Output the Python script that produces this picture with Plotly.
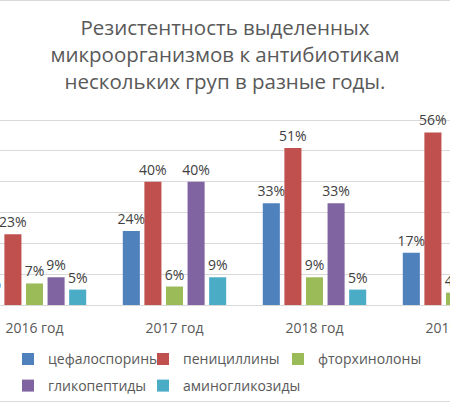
import plotly.graph_objects as go

years = ['2016 год', '2017 год', '2018 год', '2019 год']
series_names = ['цефалоспорины', 'пенициллины', 'фторхинолоны', 'гликопептиды', 'аминогликозиды']
cefalosporins = [3, 24, 33, 17]
penicillins = [23, 40, 51, 56]
ftorquinolones = [7, 6, 9, 4]
glycopeptides = [9, 40, 33, 15]
aminoglycosides = [5, 9, 5, 6]
colors = ['#4F81BD', '#C0504D', '#9BBB59', '#8064A2', '#4BACC6']

FONT = 'Open Sans'
GREY = '#595959'
W = 470  # a bit wider than the window, so the last group is cut like in the original

fig = go.Figure()

# one legend per entry so the entries sit on the Excel-like grid (3 + 2)
legend_ids = ['legend', 'legend2', 'legend3', 'legend4', 'legend5']
legend_pos = [(8 / W, -0.279), (143 / W, -0.279), (278 / W, -0.279), (8 / W, -0.4154), (143 / W, -0.4154)]

all_values = [cefalosporins, penicillins, ftorquinolones, glycopeptides, aminoglycosides]
for name, values, color, lg in zip(series_names, all_values, colors, legend_ids):
    fig.add_trace(go.Bar(
        x=years,
        y=values,
        name=name,
        marker_color=color,
        marker_line_width=0,
        text=[f'{v}%' for v in values],
        textposition='outside',
        constraintext='none',
        textfont=dict(family=FONT, size=14, color='#404040'),
        legend=lg,
    ))

legends = {}
for lg, (lx, ly) in zip(legend_ids, legend_pos):
    legends[lg] = dict(
        orientation='h',
        xanchor='left',
        x=lx,
        yanchor='middle',
        y=ly,
        font=dict(family=FONT, size=14, color=GREY),
        bgcolor='rgba(0,0,0,0)',
        itemclick=False,
    )

fig.update_layout(
    width=W,
    height=406,
    margin=dict(l=0, r=0, t=110, b=101, autoexpand=False),
    paper_bgcolor='white',
    plot_bgcolor='white',
    barmode='group',
    bargap=0.229,
    bargroupgap=0.21,
    title=dict(
        text='Резистентность выделенных<br>микроорганизмов к антибиотикам<br>нескольких груп в разные годы.',
        font=dict(family=FONT, size=20.5, color=GREY),
        x=225 / W,
        xanchor='center',
        y=0.913,
        yanchor='top',
    ),
    xaxis=dict(
        # 140 px per category, first group centred 34.5 px from the left edge
        range=[-0.2464, -0.2464 + W / 140],
        showline=True,
        linecolor='#D9D9D9',
        linewidth=1,
        ticks='',
        ticklabelstandoff=10,
        tickfont=dict(family=FONT, size=14, color=GREY),
        showgrid=False,
    ),
    yaxis=dict(
        range=[0, 63.3],
        dtick=10,
        showticklabels=False,
        gridcolor='#D9D9D9',
        gridwidth=1,
        zeroline=False,
    ),
    showlegend=True,
    shapes=[
        dict(type='line', xref='paper', yref='paper', x0=-0.05, x1=1.05, y0=1.5615, y1=1.5615,
             line=dict(color='#D9D9D9', width=1)),
        dict(type='line', xref='paper', yref='paper', x0=-0.05, x1=1.05, y0=-0.4949, y1=-0.4949,
             line=dict(color='#D9D9D9', width=1)),
    ],
    **legends,
)

# the page body has a default 8px margin; drop it (and scrollbars) so the chart fills the window
fig.write_html('out.html', config={'displayModeBar': False},
               post_script="document.body.style.margin='0';document.body.style.overflow='hidden';")
